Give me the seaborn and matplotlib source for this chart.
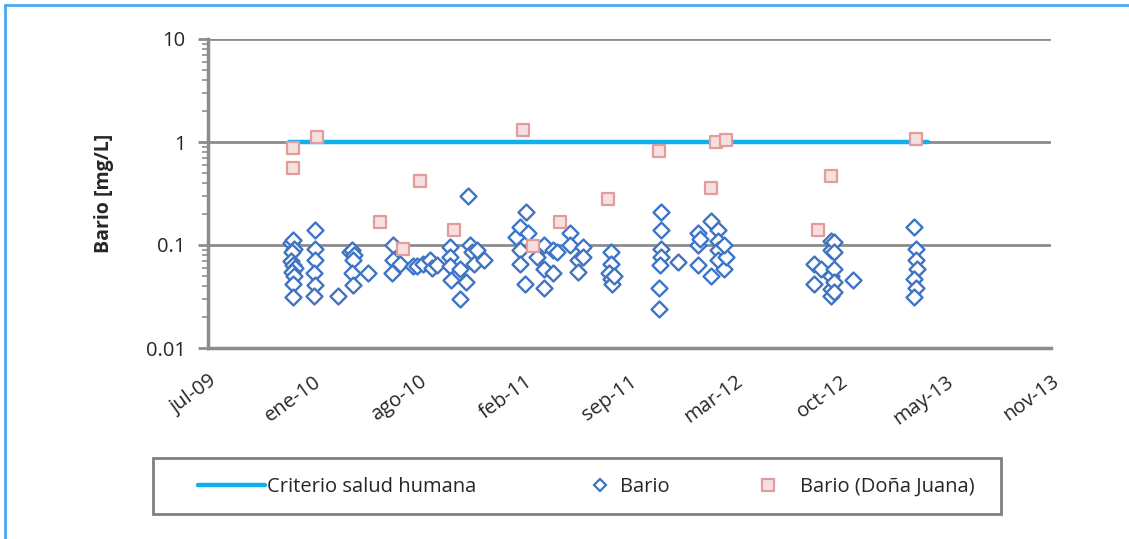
import numpy as np
import pandas as pd
import matplotlib
matplotlib.use("Agg")
import matplotlib.pyplot as plt
import matplotlib.transforms as mtrans
from matplotlib.lines import Line2D
from matplotlib.patches import Rectangle
import seaborn as sns

# ---------------- data ----------------
bario_dates = [
    "2009-12-06", "2009-12-10", "2009-12-12", "2009-12-08", "2009-12-05", "2009-12-10",
    "2009-12-14", "2009-12-07", "2009-12-11", "2009-12-09", "2009-12-10",
    "2010-01-20", "2010-01-21", "2010-01-20", "2010-01-19", "2010-01-20", "2010-01-18",
    "2010-03-05",
    "2010-03-28", "2010-04-01", "2010-04-05", "2010-04-03", "2010-04-01", "2010-04-03", "2010-05-01",
    "2010-06-18", "2010-06-18", "2010-06-16", "2010-07-01", "2010-07-26",
    "2010-08-02", "2010-08-14", "2010-08-27", "2010-08-30", "2010-09-09",
    "2010-10-04", "2010-10-04", "2010-10-04", "2010-10-06", "2010-10-23", "2010-10-23",
    "2010-11-02", "2010-11-07", "2010-11-10", "2010-11-14", "2010-11-17", "2010-11-24", "2010-12-06",
    "2011-02-05", "2011-02-14", "2011-02-14", "2011-02-14", "2011-02-24", "2011-02-22", "2011-03-01",
    "2011-03-18", "2011-03-30", "2011-03-30", "2011-03-30", "2011-04-16", "2011-04-16", "2011-04-25",
    "2011-05-20", "2011-05-20", "2011-06-03", "2011-06-03", "2011-06-12", "2011-06-12",
    "2011-08-04", "2011-08-04", "2011-08-02", "2011-08-04", "2011-08-06", "2011-08-10",
    "2011-11-08", "2011-11-08", "2011-11-08", "2011-11-08", "2011-11-06", "2011-11-04", "2011-11-04",
    "2011-12-10",
    "2012-01-17", "2012-01-17", "2012-01-17", "2012-01-20", "2012-02-10", "2012-02-10",
    "2012-02-24", "2012-02-24", "2012-02-24", "2012-02-24", "2012-03-06", "2012-03-10", "2012-03-06",
    "2012-08-24", "2012-08-24", "2012-09-06", "2012-09-26", "2012-09-26", "2012-09-26", "2012-09-26",
    "2012-09-26", "2012-10-01", "2012-10-01", "2012-10-01", "2012-10-01", "2012-10-01", "2012-11-06",
    "2013-03-02", "2013-03-06", "2013-03-06", "2013-03-08", "2013-03-02", "2013-03-06", "2013-03-02",
]
bario_vals = [
    0.105, 0.112, 0.092, 0.085, 0.070, 0.064,
    0.060, 0.055, 0.050, 0.042, 0.031,
    0.139, 0.092, 0.072, 0.053, 0.041, 0.032,
    0.032,
    0.085, 0.090, 0.080, 0.072, 0.053, 0.041, 0.053,
    0.100, 0.072, 0.053, 0.066, 0.062,
    0.062, 0.066, 0.072, 0.060, 0.064,
    0.096, 0.077, 0.062, 0.046, 0.058, 0.030,
    0.044, 0.300, 0.100, 0.085, 0.066, 0.090, 0.072,
    0.120, 0.150, 0.090, 0.066, 0.210, 0.042, 0.130,
    0.077, 0.100, 0.059, 0.038, 0.090, 0.053, 0.085,
    0.130, 0.100, 0.072, 0.055, 0.096, 0.077,
    0.085, 0.066, 0.053, 0.047, 0.042, 0.050,
    0.210, 0.140, 0.092, 0.077, 0.064, 0.038, 0.024,
    0.069,
    0.130, 0.100, 0.064, 0.115, 0.170, 0.050,
    0.140, 0.110, 0.090, 0.072, 0.058, 0.077, 0.100,
    0.066, 0.042, 0.058, 0.110, 0.090, 0.050, 0.037,
    0.032, 0.107, 0.085, 0.058, 0.044, 0.035, 0.046,
    0.150, 0.092, 0.072, 0.058, 0.047, 0.038, 0.031,
]

dj_dates = [
    "2009-12-10", "2009-12-10", "2010-01-24", "2010-05-24", "2010-07-07", "2010-08-08",
    "2010-10-10", "2011-02-18", "2011-03-09", "2011-05-01", "2011-07-31", "2011-11-04",
    "2012-02-20", "2012-03-10", "2012-02-10", "2012-09-01", "2012-09-26", "2013-03-06",
]
dj_vals = [
    0.87, 0.56, 1.13, 0.166, 0.092, 0.42,
    0.14, 1.32, 0.097, 0.166, 0.28, 0.81,
    1.00, 1.05, 0.36, 0.14, 0.47, 1.08,
]

crit_dates = ["2009-12-01", "2013-03-29"]
crit_vals = [1.0, 1.0]

tick_labels = ["jul-09", "ene-10", "ago-10", "feb-11", "sep-11",
               "mar-12", "oct-12", "may-13", "nov-13"]
y_ticks = [0.01, 0.1, 1, 10]
y_ticklabels = ["0.01", "0.1", "1", "10"]
legend_labels = ["Criterio salud humana", "Bario", "Bario (Doña Juana)"]

# ---------------- frames ----------------
df_b = pd.DataFrame({"fecha": pd.to_datetime(bario_dates), "valor": bario_vals})
df_dj = pd.DataFrame({"fecha": pd.to_datetime(dj_dates), "valor": dj_vals})
df_c = pd.DataFrame({"fecha": pd.to_datetime(crit_dates), "valor": crit_vals})

sns.set_theme(style="white")
plt.rcParams["font.family"] = ["Open Sans", "DejaVu Sans"]

W, H = 1129, 539
fig = plt.figure(figsize=(W / 100, H / 100), dpi=100)
ax = fig.add_axes([208 / W, 1 - 348 / H, (1051 - 208) / W, (348 - 39) / H])

blue = "#3f74c4"
line_blue = "#0fb0ee"
pink_edge = "#e29c9c"
pink_fill = "#f7e0e0"
grid_gray = "#8c8c8c"
text_col = "#262626"

ax.set_yscale("log")

sns.lineplot(data=df_c, x="fecha", y="valor", ax=ax, color=line_blue,
             linewidth=3.2, zorder=3, legend=False)
sns.scatterplot(data=df_b, x="fecha", y="valor", ax=ax, marker="D", s=66,
                facecolor="white", edgecolor=blue, linewidth=1.7, zorder=4,
                legend=False)
sns.scatterplot(data=df_dj, x="fecha", y="valor", ax=ax, marker="s", s=80,
                facecolor=pink_fill, edgecolor=pink_edge, linewidth=1.6, zorder=5,
                legend=False)

# axes
start = pd.Timestamp("2009-07-01")
tick_pos = [start + pd.Timedelta(days=200 * i) for i in range(len(tick_labels))]
ax.set_xlim(tick_pos[0], tick_pos[-1])
ax.set_xticks(tick_pos)
ax.set_xticklabels(tick_labels, rotation=36, ha="right", va="top",
                   rotation_mode="anchor", fontsize=14.5, color=text_col)
shift = mtrans.ScaledTranslation(4 / 100, 0, fig.dpi_scale_trans)
for lab in ax.get_xticklabels():
    lab.set_transform(lab.get_transform() + shift)
ax.set_ylim(0.01, 10)
ax.set_yticks(y_ticks)
ax.set_yticklabels(y_ticklabels, fontsize=14.5, color=text_col)
ax.yaxis.set_minor_locator(matplotlib.ticker.LogLocator(base=10, subs=np.arange(2, 10)))
ax.yaxis.set_minor_formatter(matplotlib.ticker.NullFormatter())
ax.tick_params(axis="y", which="major", direction="out", length=7, width=2,
               color=grid_gray, pad=9, left=True)
ax.tick_params(axis="y", which="minor", direction="out", length=4, width=1.2,
               color=grid_gray, left=True)
ax.tick_params(axis="x", length=0, pad=17)
ax.set_xlabel("")
ax.set_ylabel("Bario [mg/L]", fontsize=14, fontweight="bold", color=text_col)
ax.yaxis.set_label_coords((114 - 208) / (1051 - 208), 0.5)

for v in [0.1, 1, 10]:
    ax.axhline(v, color=grid_gray, linewidth=2, zorder=1)

for side in ["top", "right"]:
    ax.spines[side].set_visible(False)
for side in ["left", "bottom"]:
    ax.spines[side].set_color(grid_gray)
    ax.spines[side].set_linewidth(2.5)

# legend: one entry per box, placed along one framed row
fs = 14.5
em = fs * 100 / 72
entries = [
    (Line2D([], [], color=line_blue, linewidth=3.2), legend_labels[0], 198, 67, 2),
    (Line2D([], [], marker="D", linestyle="none", markersize=6,
            markerfacecolor="white", markeredgecolor=blue, markeredgewidth=1.6),
     legend_labels[1], 588, 24, 8),
    (Line2D([], [], marker="s", linestyle="none", markersize=8,
            markerfacecolor=pink_fill, markeredgecolor=pink_edge, markeredgewidth=1.6),
     legend_labels[2], 754, 28, 18),
]
for handle, label, x0, hlen, hpad in entries:
    leg = fig.legend([handle], [label], loc="center left",
                     bbox_to_anchor=(x0 / W, 1 - 487 / H), frameon=False,
                     fontsize=fs, handlelength=hlen / em, handletextpad=hpad / em,
                     borderpad=0, borderaxespad=0)
    for t in leg.get_texts():
        t.set_color(text_col)
fig.add_artist(Rectangle((153 / W, 1 - 514 / H), (1001 - 153) / W, (514 - 458) / H,
                         transform=fig.transFigure, fill=False,
                         edgecolor="#7f7f7f", linewidth=2))

# outer border (top and left only visible)
fig.add_artist(Line2D([5 / W, 1], [1 - 5 / H, 1 - 5 / H], transform=fig.transFigure,
                      color="#45aaea", linewidth=2))
fig.add_artist(Line2D([5 / W, 5 / W], [0, 1 - 5 / H], transform=fig.transFigure,
                      color="#45aaea", linewidth=2))

fig.savefig("out.png", dpi=100)
